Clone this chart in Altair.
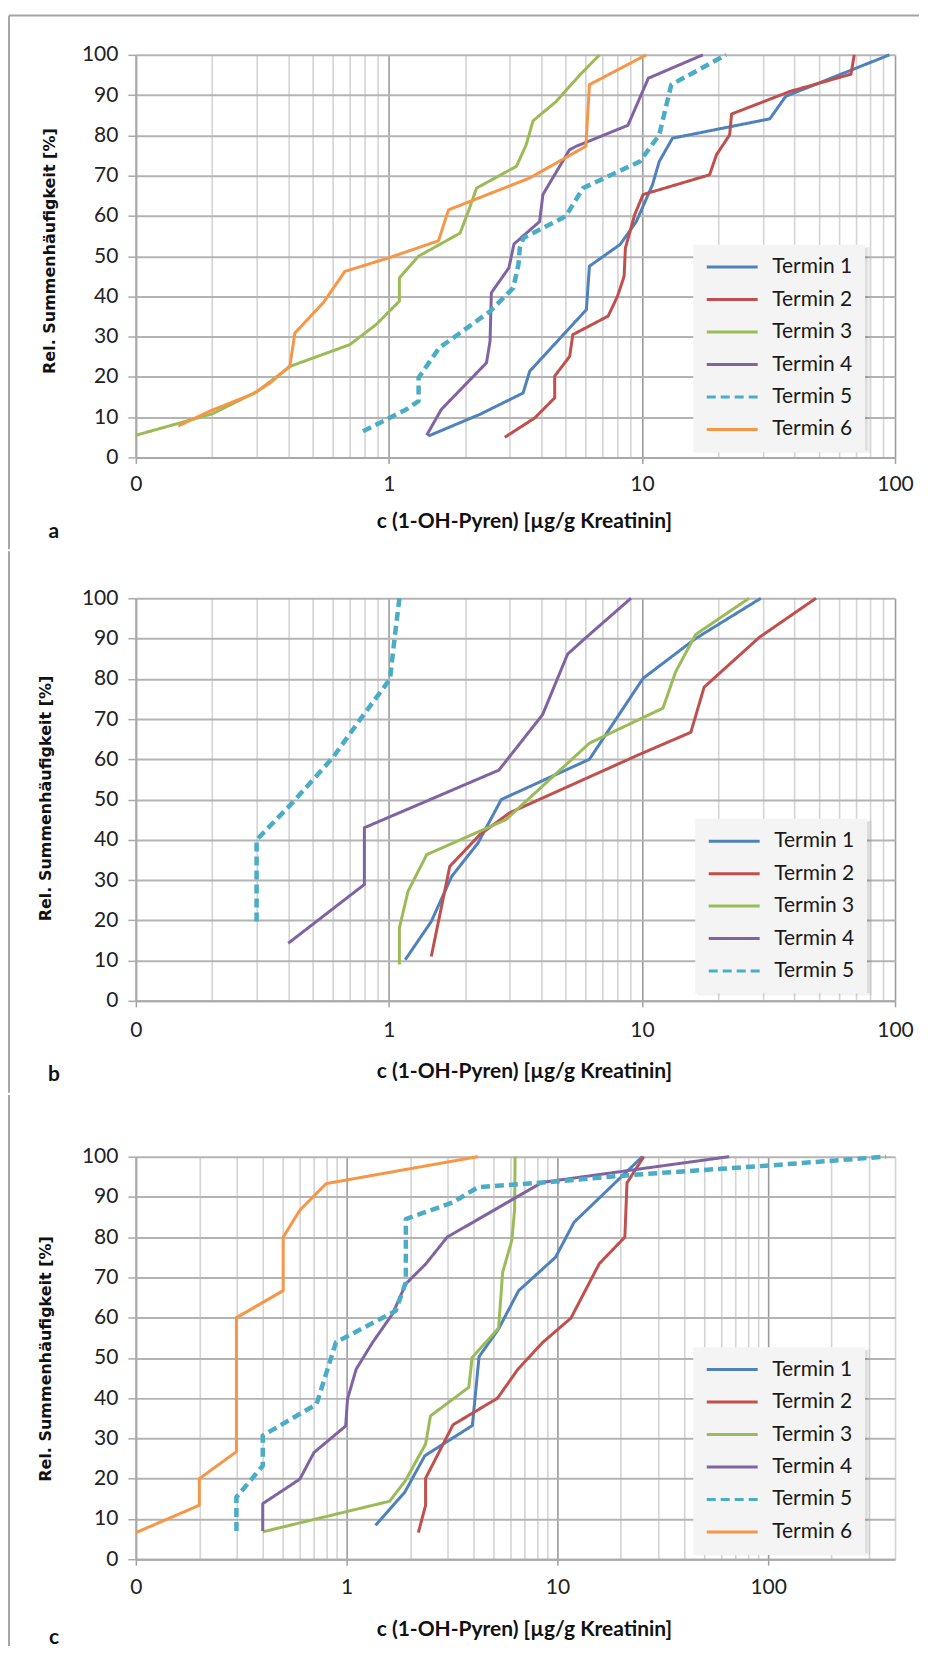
import altair as alt
import pandas as pd

TERMINE = ["Termin 1", "Termin 2", "Termin 3", "Termin 4", "Termin 5", "Termin 6"]
COLORS = ["#4F81BD", "#C0504D", "#9BBB59", "#8064A2", "#4BACC6", "#F79646"]
DASHES = [[1, 0], [1, 0], [1, 0], [1, 0], [9, 5], [1, 0]]

# ---------------- panel a ----------------
a_t1_x = [1.43, 2.29, 3.39, 3.6, 6.03, 6.2, 8.2, 9.5, 11.0, 11.7, 13.2, 32, 37, 95]
a_t1_y = [5.3, 10.7, 16.0, 21.4, 36.7, 47.5, 52.9, 58.6, 67.7, 73.5, 79.3, 84.1, 89.7, 100]
a_t2_x = [2.87, 3.77, 4.52, 4.52, 5.18, 5.33, 7.35, 8.0, 8.5, 8.6, 9.36, 10.1, 18.5, 19.7, 22.2, 22.6, 38.4, 67, 69]
a_t2_y = [5.0, 9.8, 14.8, 20.2, 25.1, 30.5, 35.1, 40.0, 45.0, 52.0, 60.3, 65.3, 70.2, 75.2, 80.1, 85.3, 90.9, 95.2, 100]
a_t3_x = [0.1, 0.2, 0.3, 0.41, 0.70, 0.89, 1.1, 1.1, 1.31, 1.91, 2.06, 2.22, 3.19, 3.49, 3.71, 4.58, 5.68, 6.8]
a_t3_y = [5.5, 10.8, 16.3, 22.7, 28.0, 33.0, 38.8, 44.6, 50.0, 55.7, 61.1, 66.9, 72.3, 77.7, 83.6, 88.4, 95.0, 100]
a_t4_x = [1.41, 1.61, 2.43, 2.51, 2.54, 2.98, 3.12, 3.94, 4.06, 5.17, 5.5, 8.8, 10.6, 17.4]
a_t4_y = [5.5, 11.9, 23.5, 28.9, 40.9, 47.1, 53.0, 58.6, 65.3, 76.4, 77.3, 82.5, 94.2, 100]
a_t5_x = [0.79, 1.17, 1.31, 1.31, 1.58, 1.91, 2.51, 3.1, 3.25, 3.29, 3.4, 5.0, 5.85, 9.8, 11.7, 13.06, 21.5]
a_t5_y = [6.5, 11.9, 14.0, 19.8, 27.2, 30.9, 36.3, 42.1, 47.9, 52.0, 54.5, 59.9, 66.9, 73.5, 80.1, 92.6, 100]
a_t6_x = [0.147, 0.196, 0.291, 0.339, 0.406, 0.425, 0.55, 0.67, 0.99, 1.57, 1.72, 3.6, 6.0, 6.2, 10.4]
a_t6_y = [7.8, 11.5, 15.8, 18.5, 22.7, 30.9, 38.4, 46.2, 49.5, 53.8, 61.5, 69.4, 77.3, 92.6, 100]

# ---------------- panel b ----------------
b_t1_x = [1.16, 1.47, 1.77, 2.25, 2.78, 6.2, 10.1, 16.3, 29.5]
b_t1_y = [10.2, 19.7, 30.9, 39.2, 50.0, 60.0, 80.1, 90.0, 100]
b_t2_x = [1.47, 1.74, 2.29, 3.0, 9.77, 15.6, 17.6, 29.1, 48.7]
b_t2_y = [11.0, 33.4, 41.3, 46.7, 61.2, 66.7, 77.9, 90.3, 100]
b_t3_x = [1.10, 1.10, 1.19, 1.41, 2.9, 6.2, 12.1, 13.6, 16.3, 26.5]
b_t3_y = [9.0, 18.1, 27.2, 36.3, 45.0, 64.0, 72.7, 81.8, 91.0, 100]
b_t4_x = [0.40, 0.80, 0.80, 2.72, 4.05, 5.08, 6.0, 9.05]
b_t4_y = [14.3, 28.9, 43.0, 57.3, 71.1, 86.1, 90.2, 100]
b_t5_x = [0.30, 0.30, 0.41, 0.60, 0.77, 1.01, 1.05, 1.10]
b_t5_y = [19.7, 40.0, 48.8, 60.4, 69.9, 79.9, 89.4, 100]

# ---------------- panel c ----------------
c_t1_x = [1.37, 1.89, 2.35, 3.95, 4.25, 5.26, 6.55, 9.8, 12.0, 25.3]
c_t1_y = [8.4, 16.7, 25.7, 33.2, 50.3, 57.2, 66.7, 75.0, 83.7, 100]
c_t2_x = [2.19, 2.37, 2.37, 3.2, 5.2, 6.5, 8.5, 11.6, 15.8, 20.9, 21.4, 25.7]
c_t2_y = [6.6, 13.4, 20.1, 33.4, 40.0, 47.2, 53.8, 59.9, 73.4, 80.0, 93.5, 100]
c_t3_x = [0.40, 1.60, 1.9, 2.37, 2.5, 3.8, 3.94, 5.26, 5.5, 6.08, 6.27, 6.3]
c_t3_y = [6.8, 14.4, 19.5, 28.6, 35.6, 42.7, 50.1, 57.4, 71.3, 79.2, 87.0, 100]
c_t4_x = [0.40, 0.40, 0.60, 0.70, 0.99, 1.01, 1.11, 1.33, 1.65, 1.91, 2.37, 3.0, 8.46, 65.3]
c_t4_y = [7.0, 13.8, 19.9, 26.5, 33.1, 39.8, 47.2, 53.9, 60.9, 68.4, 73.3, 80.0, 93.6, 100]
c_t5_x = [0.30, 0.30, 0.40, 0.40, 0.72, 0.89, 1.71, 1.91, 1.91, 3.18, 4.2, 9.8, 21.8, 101, 363]
c_t5_y = [7.0, 15.4, 23.2, 30.7, 38.5, 53.9, 61.7, 68.8, 84.5, 88.6, 92.4, 93.8, 95.4, 97.8, 100]
c_t6_x = [0.1, 0.2, 0.2, 0.3, 0.3, 0.5, 0.5, 0.6, 0.8, 4.2]
c_t6_y = [6.6, 13.4, 20.0, 26.7, 60.0, 66.7, 80.0, 86.7, 93.3, 100]

X_TITLE = "c (1-OH-Pyren) [µg/g Kreatinin]"
Y_TITLE = "Rel. Summenhäufigkeit [%]"
W, H = 760, 403

DEC = "abs(log(datum.value)/LN10 - round(log(datum.value)/LN10)) < 0.001"
LABEL_EXPR = ("datum.value < 0.15 ? '0' : (" + DEC + " ? format(datum.value, 'd') : '')")


def table(series):
    rows = []
    for name, xs, ys in series:
        for i, (x, y) in enumerate(zip(xs, ys)):
            rows.append({"termin": name, "x": x, "y": y, "i": i})
    return pd.DataFrame(rows)


def grid_values(xmax):
    vals = []
    for e in [-1, 0, 1, 2]:
        for m in range(1, 10):
            v = round(m * 10 ** e, 6)
            if v <= xmax * 1.0001:
                vals.append(v)
    return vals


def panel(series, xmax, letter, legend_xy, lab_pad, title_y, ytitle_x, ytitle_y, letter_y,
          frame_top, frame_bottom, top_line=False):
    n = len(series)
    df = table(series)
    lx, ly = legend_xy
    legend = alt.Legend(
        orient="none", legendX=lx, legendY=ly, title=None,
        fillColor="#f4f4f4", padding=12, symbolType="stroke", symbolSize=2601,
        symbolStrokeWidth=3, clipHeight=21, rowPadding=10.5, labelOffset=13,
        labelFont="Lato", labelFontSize=21, labelColor="#1a1a1a", labelLimit=200,
    )
    xaxis = alt.Axis(
        values=grid_values(xmax), labelExpr=LABEL_EXPR, labelOverlap=False, labelFlush=False,
        grid=True,
        gridColor={"condition": {"test": DEC, "value": "#9c9c9c"}, "value": "#d4d4d4"},
        gridWidth=1.6,
        tickColor="#a0a0a0", tickWidth=1.5, tickSize=6,
        tickOpacity={"condition": {"test": DEC, "value": 1}, "value": 0},
        labelPadding=lab_pad, labelFont="Lato", labelFontSize=21, labelColor="#222222",
        domainColor="#aaaaaa", domainWidth=2,
        title=X_TITLE, titleFont="Lato", titleFontWeight="bold", titleFontSize=21,
        titleColor="#111111", titleX=388.5, titleY=title_y, titleAlign="center",
        titleBaseline="alphabetic",
    )
    yaxis = alt.Axis(
        values=list(range(0, 101, 10)), grid=True, gridColor="#b4b4b4", gridWidth=2,
        tickSize=8, tickColor="#aaaaaa", tickWidth=1.5, labelPadding=10,
        labelFont="Lato", labelFontSize=21, labelColor="#222222",
        domainColor="#aaaaaa", domainWidth=2,
        title=Y_TITLE, titleFont="DejaVu Sans", titleFontSize=16, titleFontWeight="bold",
        titleColor="#111111", titleX=ytitle_x, titleY=ytitle_y, titleAngle=270,
        titleAlign="center", titleBaseline="alphabetic",
    )
    lines = alt.Chart(df).mark_line(strokeJoin="round").encode(
        x=alt.X("x:Q", scale=alt.Scale(type="log", domain=[0.1, xmax], nice=False), axis=xaxis),
        y=alt.Y("y:Q", scale=alt.Scale(domain=[0, 100], nice=False), axis=yaxis),
        color=alt.Color("termin:N", scale=alt.Scale(domain=TERMINE[:n], range=COLORS[:n]),
                        legend=legend),
        strokeDash=alt.StrokeDash("termin:N",
                                  scale=alt.Scale(domain=TERMINE[:n], range=DASHES[:n]),
                                  legend=legend),
        strokeWidth=alt.condition(alt.datum.termin == "Termin 5", alt.value(4.5), alt.value(3)),
        order=alt.Order("i:Q"),
    )
    one = pd.DataFrame({"t": [letter]})
    # soft drop shadow of the legend box
    lw = 171
    lh = 24 + n * 21 + (n - 1) * 10.5
    shadow1 = alt.Chart(one).mark_rect(color="#000000", opacity=0.05).encode(
        x=alt.value(lx + 2), x2=alt.value(lx + lw + 6),
        y=alt.value(ly + 2), y2=alt.value(ly + lh + 6))
    shadow2 = alt.Chart(one).mark_rect(color="#000000", opacity=0.09).encode(
        x=alt.value(lx + 3), x2=alt.value(lx + lw + 3.5),
        y=alt.value(ly + 3), y2=alt.value(ly + lh + 3.5))
    left = alt.Chart(one).mark_rule(color="#a6a6a6", strokeWidth=2).encode(
        x=alt.value(-127), y=alt.value(-frame_top), y2=alt.value(frame_bottom))
    lab = alt.Chart(one).mark_text(font="Lato", fontWeight="bold", fontSize=21,
                                   align="center", baseline="alphabetic",
                                   color="#111111").encode(
        x=alt.value(-82), y=alt.value(H + letter_y), text="t:N")
    layers = [lines, shadow1, shadow2, left, lab]
    if top_line:
        top = alt.Chart(one).mark_rule(color="#a6a6a6", strokeWidth=2).encode(
            x=alt.value(-127), x2=alt.value(784), y=alt.value(-frame_top))
        layers.append(top)
    return alt.layer(*layers).properties(width=W, height=H)


pa = panel(
    [("Termin 1", a_t1_x, a_t1_y), ("Termin 2", a_t2_x, a_t2_y), ("Termin 3", a_t3_x, a_t3_y),
     ("Termin 4", a_t4_x, a_t4_y), ("Termin 5", a_t5_x, a_t5_y), ("Termin 6", a_t6_x, a_t6_y)],
    100, "a", (558, 190), 10.6, 70.5, -81, 196, 81, 39.3, 495, top_line=True)
pb = panel(
    [("Termin 1", b_t1_x, b_t1_y), ("Termin 2", b_t2_x, b_t2_y), ("Termin 3", b_t3_x, b_t3_y),
     ("Termin 4", b_t4_x, b_t4_y), ("Termin 5", b_t5_x, b_t5_y)],
    100, "b", (560, 220.7), 12.9, 76.5, -85, 200, 80, 47, 495)
pc = panel(
    [("Termin 1", c_t1_x, c_t1_y), ("Termin 2", c_t2_x, c_t2_y), ("Termin 3", c_t3_x, c_t3_y),
     ("Termin 4", c_t4_x, c_t4_y), ("Termin 5", c_t5_x, c_t5_y), ("Termin 6", c_t6_x, c_t6_y)],
    400, "c", (558, 190.7), 11.5, 76, -85, 202, 85, 61.7, 490)

chart = alt.vconcat(pa, pb, pc, spacing=0).resolve_scale(
    color="independent", strokeDash="independent", x="independent", y="independent"
).resolve_legend(color="independent", strokeDash="independent").properties(
    padding={"top": 5, "left": 0, "right": 0, "bottom": 0}
).configure_view(stroke=None)

chart.save("out.html", embed_options={"renderer": "svg", "actions": False})
